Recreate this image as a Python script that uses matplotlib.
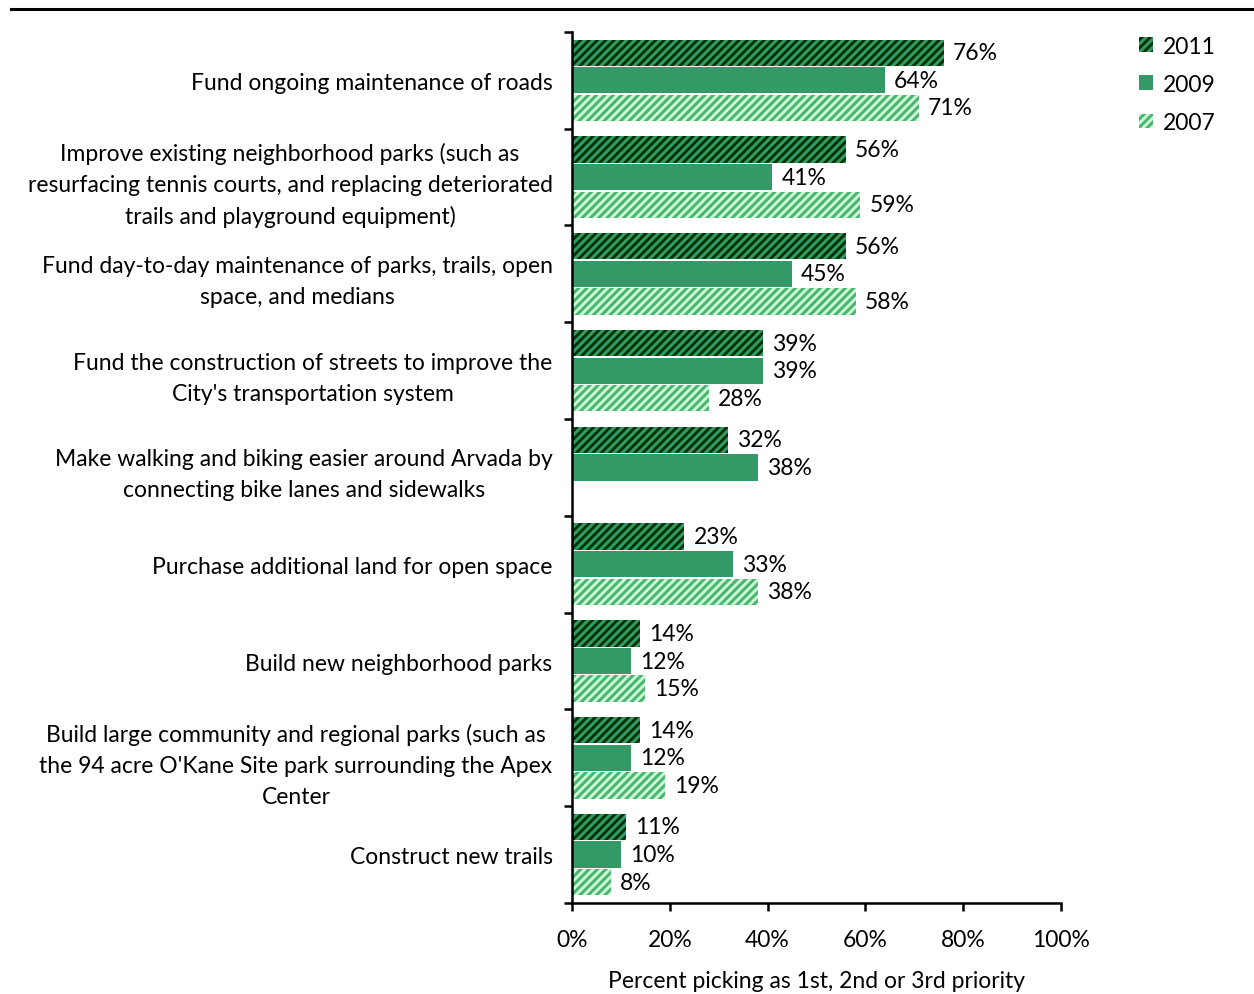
import matplotlib
matplotlib.use("Agg")
import matplotlib.pyplot as plt
import numpy as np

# ── Data ───────────────────────────────────────────────
categories = [
    "Fund ongoing maintenance of roads",
    "Improve existing neighborhood parks (such as\nresurfacing tennis courts, and replacing deteriorated\ntrails and playground equipment)",
    "Fund day-to-day maintenance of parks, trails, open\nspace, and medians",
    "Fund the construction of streets to improve the\nCity's transportation system",
    "Make walking and biking easier around Arvada by\nconnecting bike lanes and sidewalks",
    "Purchase additional land for open space",
    "Build new neighborhood parks",
    "Build large community and regional parks (such as\nthe 94 acre O'Kane Site park surrounding the Apex\nCenter",
    "Construct new trails",
]
years = ["2011", "2009", "2007"]
vals_2011 = [76, 56, 56, 39, 32, 23, 14, 14, 11]
vals_2009 = [64, 41, 45, 39, 38, 33, 12, 12, 10]
vals_2007 = [71, 59, 58, 28, None, 38, 15, 19, 8]
x_ticks = [0, 20, 40, 60, 80, 100]
x_label = "Percent picking as 1st, 2nd or 3rd priority"

# ── Style ──────────────────────────────────────────────
plt.rcParams["font.family"] = ["Lato", "DejaVu Sans"]
plt.rcParams["hatch.linewidth"] = 2.2
FS = 16.5

styles = {
    "2011": dict(color="#003300", edgecolor="#339966", hatch="////"),
    "2009": dict(color="#339966", edgecolor="#339966", hatch=None),
    "2007": dict(color="#ccffcc", edgecolor="#4db37d", hatch="////"),
}
offsets = [-0.285, 0.0, 0.285]
bar_h = 0.272

fig = plt.figure(figsize=(12.54, 9.95), dpi=100)
ax = fig.add_axes([0.4561, 0.0915, 0.390, 0.8754])

centers = np.arange(len(categories)) + 0.5
for year, vals, off in zip(years, [vals_2011, vals_2009, vals_2007], offsets):
    st = styles[year]
    ys = [c + off for c, v in zip(centers, vals) if v is not None]
    vs = [v for v in vals if v is not None]
    ax.barh(ys, vs, height=bar_h, color=st["color"],
            edgecolor=st["edgecolor"], hatch=st["hatch"],
            linewidth=0, label=year)
    for y, v in zip(ys, vs):
        ax.annotate(f"{v}%", xy=(v, y), xytext=(6.5, 0),
                    textcoords="offset points", va="center", ha="left",
                    fontsize=FS)

ax.set_xlim(0, 100)
ax.set_ylim(len(categories), 0)
ax.set_xticks(x_ticks)
ax.set_xticklabels([f"{t}%" for t in x_ticks], fontsize=FS)
ax.set_yticks(centers)
ax.set_yticklabels(categories, fontsize=FS, linespacing=1.58,
                   multialignment="center")
ax.set_yticks(np.arange(len(categories) + 1), minor=True)
ax.tick_params(axis="y", which="major", length=0, pad=14)
ax.tick_params(axis="y", which="minor", length=6, width=1.8,
               direction="out")
ax.tick_params(axis="x", length=6, width=1.8, direction="out", pad=13)
ax.set_xlabel(x_label, fontsize=FS, labelpad=14)

for s in ["top", "right"]:
    ax.spines[s].set_visible(False)
for s in ["left", "bottom"]:
    ax.spines[s].set_linewidth(1.8)

fig.legend(loc="upper left", bbox_to_anchor=(0.892, 0.984),
           frameon=False, fontsize=FS, handlelength=0.6,
           handleheight=0.6, handletextpad=0.45, labelspacing=0.75)

# top rule
fig.add_artist(plt.Line2D([11 / 1254, 1.0], [1 - 10 / 995, 1 - 10 / 995],
                          color="black", linewidth=2.2,
                          transform=fig.transFigure))

fig.savefig("out.png", dpi=100)
